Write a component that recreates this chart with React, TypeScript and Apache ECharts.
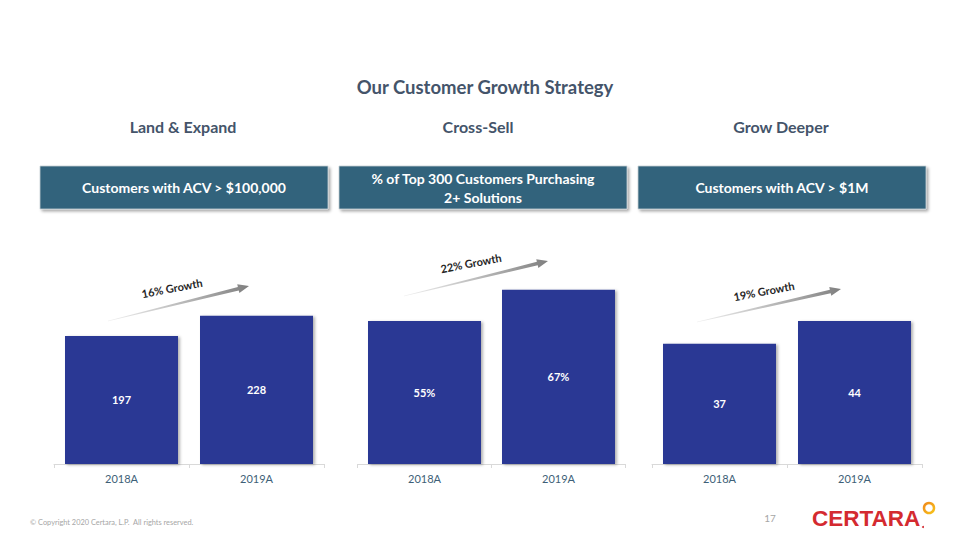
import React, { useEffect, useRef } from "react";
import * as echarts from "echarts";

const categories = ["2018A", "2019A"];
const landExpand = [197, 228];
const crossSell = [55, 67];
const growDeeper = [37, 44];
const panelTitles = ["Land & Expand", "Cross-Sell", "Grow Deeper"];
const headerTexts = ["Customers with ACV > $100,000", "% of Top 300 Customers Purchasing\n2+ Solutions", "Customers with ACV > $1M"];
const growthTexts = ["16% Growth", "22% Growth", "19% Growth"];
const yMax = [300, 75, 60];

const FONT = "Lato, 'Open Sans', sans-serif";
const BAR = "#2C3994";
const HEAD = "#31637B";
const SLATE = "#44546A";

function arrow(sx: number, sy: number, ex: number, ey: number) {
  const dx = ex - sx, dy = ey - sy;
  const len = Math.hypot(dx, dy);
  const ux = dx / len, uy = dy / len;
  const nx = -uy, ny = ux;
  const head = 11;
  const bx = ex - ux * head, by = ey - uy * head;
  const pts = [
    [sx + nx * 0.3, sy + ny * 0.3],
    [bx + nx * 1.8, by + ny * 1.8],
    [bx + nx * 4.5, by + ny * 4.5],
    [ex, ey],
    [bx - nx * 4.5, by - ny * 4.5],
    [bx - nx * 1.8, by - ny * 1.8],
    [sx - nx * 0.3, sy - ny * 0.3],
  ];
  return {
    type: "polygon",
    shape: { points: pts },
    style: {
      fill: new echarts.graphic.LinearGradient(0, 0, 1, 0, [
        { offset: 0, color: "rgba(150,150,150,0.15)" },
        { offset: 1, color: "#7f7f7f" },
      ]),
    },
  };
}

export default function App() {
  const ref = useRef<HTMLDivElement>(null);
  useEffect(() => {
    const chart = echarts.init(ref.current!, null, { renderer: "svg" });
    const grids = [
      { left: 54, width: 270 },
      { left: 357.5, width: 268 },
      { left: 652, width: 270 },
    ];
    const datasets = [landExpand, crossSell, growDeeper];
    const fmt = [(v: number) => `${v}`, (v: number) => `${v}%`, (v: number) => `${v}`];
    const boxes = [
      { x: 40, w: 288 },
      { x: 339, w: 288 },
      { x: 638, w: 288 },
    ];
    const arrows = [
      [108, 321, 249, 286],
      [404, 296, 548, 261],
      [697, 322, 841, 289],
    ];
    const growthPos = [
      [172, 288],
      [471, 263],
      [764, 291],
    ];
    const titleX = [183, 478, 781];

    const graphic: any[] = [
      {
        type: "text",
        x: 485,
        y: 87,
        style: { text: "Our Customer Growth Strategy", font: `bold 18.5px ${FONT}`, fill: SLATE, textAlign: "center", textVerticalAlign: "middle" },
      },
    ];
    panelTitles.forEach((t, i) => {
      graphic.push({
        type: "text",
        x: titleX[i],
        y: 126,
        style: { text: t, font: `bold 16px ${FONT}`, fill: SLATE, textAlign: "center", textVerticalAlign: "middle" },
      });
    });
    boxes.forEach((b, i) => {
      graphic.push({
        type: "rect",
        shape: { x: b.x, y: 166, width: b.w, height: 43 },
        style: { fill: HEAD, stroke: "#c8d0d6", lineWidth: 0.8, shadowBlur: 3, shadowOffsetX: 2, shadowOffsetY: 2, shadowColor: "rgba(0,0,0,0.35)" },
      });
      graphic.push({
        type: "text",
        x: b.x + b.w / 2,
        y: 187.5,
        style: { text: headerTexts[i], font: `bold 14px ${FONT}`, fill: "#ffffff", textAlign: "center", textVerticalAlign: "middle", lineHeight: 19 },
      });
    });
    arrows.forEach((a, i) => {
      graphic.push(arrow(a[0], a[1], a[2], a[3]));
      graphic.push({
        type: "text",
        x: growthPos[i][0],
        y: growthPos[i][1],
        rotation: 0.19,
        style: { text: growthTexts[i], font: `bold 11px ${FONT}`, fill: "#262626", textAlign: "center", textVerticalAlign: "middle" },
      });
    });
    graphic.push(
      {
        type: "text",
        x: 30,
        y: 522,
        style: { text: "© Copyright 2020 Certara, L.P.  All rights reserved.", font: `7.4px ${FONT}`, fill: "#a6a6a6", textVerticalAlign: "middle" },
      },
      {
        type: "text",
        x: 770,
        y: 518,
        style: { text: "17", font: `10px ${FONT}`, fill: "#a6a6a6", textAlign: "center", textVerticalAlign: "middle" },
      },
      {
        type: "text",
        x: 812,
        y: 518,
        style: { text: "CERTARA", font: `bold 22.5px 'Liberation Sans', Arial, sans-serif`, fill: "#D42A30", textVerticalAlign: "middle" },
      },
      {
        type: "circle",
        shape: { cx: 929, cy: 508, r: 5 },
        style: {
          fill: "none",
          lineWidth: 2.5,
          stroke: new echarts.graphic.LinearGradient(0, 0, 1, 1, [
            { offset: 0, color: "#F08A1C" },
            { offset: 1, color: "#F7C21A" },
          ]),
        },
      },
      { type: "circle", shape: { cx: 923, cy: 527, r: 1 }, style: { fill: "#D42A30" } }
    );

    chart.setOption({
      animation: false,
      grid: grids.map((g) => ({ left: g.left, width: g.width, top: 269, height: 195 })),
      xAxis: grids.map((_, i) => ({
        type: "category",
        gridIndex: i,
        data: categories,
        axisLine: { lineStyle: { color: "#d9d9d9", width: 1 } },
        axisTick: { show: true, length: 4, lineStyle: { color: "#d9d9d9" } },
        axisLabel: { color: "#3E5F77", fontSize: 11, fontFamily: FONT, margin: 9 },
      })),
      yAxis: grids.map((_, i) => ({
        type: "value",
        gridIndex: i,
        min: 0,
        max: yMax[i],
        show: false,
        splitLine: { show: false },
      })),
      series: datasets.map((d, i) => ({
        type: "bar",
        xAxisIndex: i,
        yAxisIndex: i,
        data: d,
        barWidth: 113,
        itemStyle: { color: BAR, shadowColor: "rgba(0,0,0,0.3)", shadowBlur: 3, shadowOffsetX: 2, shadowOffsetY: 1 },
        label: {
          show: true,
          position: "inside",
          color: "#ffffff",
          fontWeight: "bold",
          fontSize: 11,
          fontFamily: FONT,
          formatter: (p: any) => fmt[i](p.value),
        },
      })),
      graphic,
    });
    return () => chart.dispose();
  }, []);
  return <div ref={ref} style={{ position: "fixed", left: 0, top: 0, width: 960, height: 540, background: "#ffffff" }} />;
}
